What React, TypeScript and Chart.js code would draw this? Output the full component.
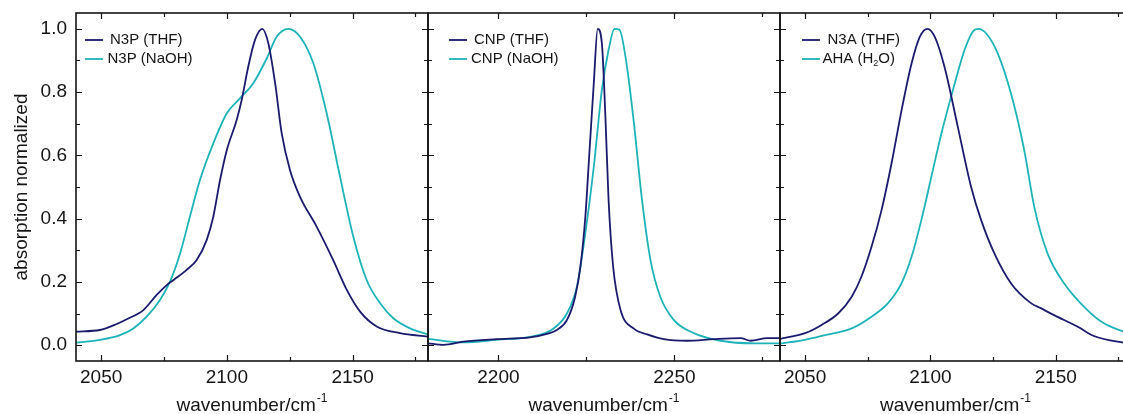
import React, { useEffect, useRef } from "react";
import { Chart, registerables } from "chart.js";

Chart.register(...registerables);

// ---------- data ----------
// Panel 1: N3P
const n3pThfX = [2040, 2049.5, 2056.2, 2060.2, 2066.8, 2072.1, 2076.1, 2078.8, 2084.0, 2088.0, 2092.0, 2094.6, 2097.3, 2100.0, 2103.9, 2105.9, 2108.5, 2111.2, 2114.1, 2116.5, 2119.2, 2121.8, 2125.1, 2129.1, 2135.7, 2142.3, 2147.7, 2153.0, 2159.6, 2168.9, 2180];
const n3pThfY = [0.043, 0.048, 0.067, 0.082, 0.111, 0.159, 0.190, 0.206, 0.238, 0.269, 0.333, 0.406, 0.522, 0.617, 0.712, 0.775, 0.880, 0.965, 1.0, 0.954, 0.828, 0.670, 0.554, 0.469, 0.375, 0.269, 0.175, 0.106, 0.059, 0.038, 0.027];
const n3pNaohX = [2040, 2049.5, 2057.5, 2062.8, 2068.1, 2073.4, 2077.4, 2081.4, 2085.3, 2089.3, 2094.6, 2100.0, 2105.2, 2110.5, 2115.9, 2119.8, 2124.5, 2129.1, 2134.4, 2139.7, 2145.0, 2150.3, 2155.6, 2160.9, 2166.2, 2172.9, 2180];
const n3pNaohY = [0.008, 0.017, 0.032, 0.053, 0.090, 0.143, 0.201, 0.290, 0.406, 0.522, 0.638, 0.733, 0.780, 0.828, 0.907, 0.975, 1.0, 0.975, 0.891, 0.733, 0.533, 0.343, 0.206, 0.133, 0.085, 0.053, 0.034];

// Panel 2: CNP
const cnpThfX = [2180, 2184.4, 2190.1, 2199.5, 2209.0, 2213.8, 2216.6, 2219.5, 2221.8, 2223.3, 2224.7, 2225.9, 2227.1, 2228.2, 2229.4, 2230.4, 2231.3, 2232.6, 2234.7, 2238.4, 2242.3, 2247.0, 2253.6, 2261.2, 2268.8, 2271.7, 2276.4, 2280];
const cnpThfY = [0.006, 0.001, 0.011, 0.019, 0.025, 0.036, 0.048, 0.080, 0.153, 0.248, 0.406, 0.617, 0.828, 1.0, 0.954, 0.722, 0.459, 0.248, 0.111, 0.053, 0.034, 0.019, 0.014, 0.019, 0.022, 0.014, 0.022, 0.022];
const cnpNaohX = [2180, 2190.1, 2199.5, 2209.4, 2215.7, 2219.5, 2222.3, 2224.7, 2227.1, 2229.4, 2231.3, 2233.0, 2234.4, 2236.1, 2238.4, 2240.8, 2243.2, 2246.0, 2249.8, 2255.5, 2263.1, 2272.6, 2280];
const cnpNaohY = [0.020, 0.009, 0.017, 0.027, 0.053, 0.101, 0.185, 0.354, 0.564, 0.807, 0.933, 1.0, 0.997, 0.912, 0.712, 0.459, 0.269, 0.153, 0.080, 0.038, 0.014, 0.006, 0.006];

// Panel 3: N3A / AHA
const n3aThfX = [2040, 2050, 2056.6, 2063.3, 2068.6, 2072.5, 2076.5, 2080.5, 2084.5, 2088.5, 2092.5, 2095.8, 2098.8, 2101.7, 2105.6, 2110.9, 2116.2, 2120.2, 2125.5, 2132.1, 2140.1, 2144.0, 2149.3, 2158.6, 2165.2, 2177, 2180];
const n3aThfY = [0.020, 0.038, 0.064, 0.101, 0.153, 0.217, 0.311, 0.427, 0.575, 0.743, 0.891, 0.975, 1.0, 0.975, 0.880, 0.691, 0.501, 0.396, 0.290, 0.196, 0.133, 0.117, 0.095, 0.059, 0.029, 0.008, 0.005];
const ahaH2oX = [2040, 2050, 2058, 2068.6, 2076.5, 2083.1, 2088.5, 2092.5, 2096.4, 2100.4, 2104.4, 2109.0, 2113.6, 2116.9, 2119.1, 2122.2, 2126.8, 2132.1, 2137.4, 2141.4, 2146.7, 2153.3, 2162.6, 2169.2, 2177, 2180];
const ahaH2oY = [0.005, 0.017, 0.032, 0.053, 0.090, 0.133, 0.196, 0.280, 0.396, 0.533, 0.670, 0.807, 0.933, 0.991, 1.0, 0.986, 0.923, 0.796, 0.617, 0.438, 0.290, 0.196, 0.111, 0.069, 0.043, 0.035];

// legend labels ("_2" marks a subscript digit)
const labelsPanel1 = ["N3P (THF)", "N3P (NaOH)"];
const labelsPanel2 = ["CNP (THF)", "CNP (NaOH)"];
const labelsPanel3 = ["N3A (THF)", "AHA (H_2O)"];

// tick values
const xTicksA = [2050, 2075, 2100, 2125, 2150, 2175];
const xTicksB = [2200, 2225, 2250, 2275];
const yTicks = [0, 0.1, 0.2, 0.3, 0.4, 0.5, 0.6, 0.7, 0.8, 0.9, 1.0];

const xTitle = "wavenumber/cm";
const xTitleSup = "-1";
const yTitle = "absorption normalized";

// ---------- styling ----------
const NAVY = "#1b1a6f";
const TEAL = "#1db3b8";
const INK = "#151515";
const FONT = '"Liberation Sans", Arial, Helvetica, sans-serif';

type Series = { xs: number[]; ys: number[]; color: string };
type Panel = {
  left: number; width: number; padLeft: number; padRight: number; yWidth: number;
  xmin: number; xmax: number; xTicks: number[]; showY: boolean;
  series: Series[]; labels: string[];
  legendLine: [number, number]; legendText: number[];
};

const panels: Panel[] = [
  {
    left: 0, width: 431, padLeft: 0, padRight: 3, yWidth: 76,
    xmin: 2040, xmax: 2180, xTicks: xTicksA, showY: true,
    series: [{ xs: n3pThfX, ys: n3pThfY, color: NAVY }, { xs: n3pNaohX, ys: n3pNaohY, color: TEAL }],
    labels: labelsPanel1, legendLine: [9, 27], legendText: [34, 31.5],
  },
  {
    left: 426, width: 356, padLeft: 2, padRight: 2, yWidth: 0,
    xmin: 2180, xmax: 2280, xTicks: xTicksB, showY: false,
    series: [{ xs: cnpThfX, ys: cnpThfY, color: NAVY }, { xs: cnpNaohX, ys: cnpNaohY, color: TEAL }],
    labels: labelsPanel2, legendLine: [21, 39], legendText: [46, 43],
  },
  {
    left: 778, width: 356, padLeft: 2, padRight: 3, yWidth: 0,
    xmin: 2040, xmax: 2180, xTicks: xTicksA, showY: false,
    series: [{ xs: n3aThfX, ys: n3aThfY, color: NAVY }, { xs: ahaH2oX, ys: ahaH2oY, color: TEAL }],
    labels: labelsPanel3, legendLine: [22, 40], legendText: [47.5, 42.5],
  },
];

const isMajorX = (v: number) => Math.round(v) % 50 === 0;
const isMajorY = (v: number) => Math.round(v * 10) % 2 === 0;

function drawRichText(ctx: CanvasRenderingContext2D, text: string, x: number, y: number, size: number) {
  const parts = text.split(/_(\d)/);
  let cx = x;
  parts.forEach((p, i) => {
    if (!p) return;
    if (i % 2 === 1) {
      ctx.font = `${Math.round(size * 0.62)}px ${FONT}`;
      ctx.fillText(p, cx, y + size * 0.33);
      cx += ctx.measureText(p).width;
    } else {
      ctx.font = `${size}px ${FONT}`;
      ctx.fillText(p, cx, y);
      cx += ctx.measureText(p).width;
    }
  });
}

function makeDecor(p: Panel) {
  return {
    id: "decor",
    afterDraw(chart: any) {
      const { ctx, chartArea: a } = chart;
      const x = chart.scales.x;
      const y = chart.scales.y;
      ctx.save();
      // ticks (inward, all four sides)
      ctx.strokeStyle = INK;
      ctx.lineWidth = 1.2;
      ctx.beginPath();
      x.ticks.forEach((t: any) => {
        const px = Math.round(x.getPixelForValue(t.value)) + 0.5;
        const len = isMajorX(t.value) ? 6 : 4;
        ctx.moveTo(px, a.bottom); ctx.lineTo(px, a.bottom - len);
        ctx.moveTo(px, a.top); ctx.lineTo(px, a.top + len);
      });
      y.ticks.forEach((t: any) => {
        const py = Math.round(y.getPixelForValue(t.value)) + 0.5;
        const len = isMajorY(t.value) ? 6 : 4;
        ctx.moveTo(a.left, py); ctx.lineTo(a.left + len, py);
        ctx.moveTo(a.right, py); ctx.lineTo(a.right - len, py);
      });
      ctx.stroke();
      // frame
      ctx.lineWidth = 1.6;
      ctx.strokeRect(a.left, a.top, a.right - a.left, a.bottom - a.top);

      // legend
      const rows = [40, 59];
      p.labels.forEach((lab, i) => {
        const ry = rows[i];
        ctx.strokeStyle = p.series[i].color;
        ctx.lineWidth = 1.8;
        ctx.beginPath();
        ctx.moveTo(a.left + p.legendLine[0], ry);
        ctx.lineTo(a.left + p.legendLine[1], ry);
        ctx.stroke();
        ctx.fillStyle = INK;
        ctx.textAlign = "left";
        ctx.textBaseline = "middle";
        drawRichText(ctx, lab, a.left + p.legendText[i], ry, 15);
      });

      // x-axis title with superscript
      ctx.fillStyle = INK;
      ctx.textBaseline = "alphabetic";
      ctx.textAlign = "left";
      ctx.font = `19px ${FONT}`;
      const w1 = ctx.measureText(xTitle).width;
      ctx.font = `12px ${FONT}`;
      const w2 = ctx.measureText(xTitleSup).width;
      const cx = (a.left + a.right) / 2;
      const sx = cx - (w1 + w2 + 1) / 2;
      ctx.font = `19px ${FONT}`;
      ctx.fillText(xTitle, sx, 410.5);
      ctx.font = `12px ${FONT}`;
      ctx.fillText(xTitleSup, sx + w1 + 1, 401.5);
      ctx.restore();
    },
  };
}

function PanelChart({ p }: { p: Panel }) {
  const ref = useRef<HTMLCanvasElement | null>(null);
  useEffect(() => {
    if (!ref.current) return;
    const chart = new Chart(ref.current, {
      type: "line",
      data: {
        datasets: p.series.map((s, i) => ({
          label: p.labels[i],
          data: s.xs.map((xv, k) => ({ x: xv, y: s.ys[k] })),
          borderColor: s.color,
          backgroundColor: s.color,
          borderWidth: 1.8,
          pointRadius: 0,
          fill: false,
          cubicInterpolationMode: "monotone" as const,
        })),
      },
      options: {
        responsive: false,
        animation: false,
        events: [],
        layout: { padding: { left: p.padLeft, right: p.padRight, top: 13, bottom: 0 } },
        plugins: { legend: { display: false }, tooltip: { enabled: false }, title: { display: false } },
        scales: {
          x: {
            type: "linear",
            min: p.xmin,
            max: p.xmax,
            bounds: "data",
            afterBuildTicks: (s: any) => { s.ticks = p.xTicks.map((v) => ({ value: v })); },
            afterFit: (s: any) => {
              s.height = 53;
              s.paddingLeft = 0; s.paddingRight = 0; s.paddingTop = 0; s.paddingBottom = 0;
            },
            grid: { display: false, drawTicks: false },
            border: { display: false },
            ticks: {
              autoSkip: false, maxRotation: 0, minRotation: 0, padding: 5,
              color: INK, font: { family: FONT, size: 19 },
              callback: (v: any) => (isMajorX(Number(v)) ? String(v) : ""),
            },
          },
          y: {
            type: "linear",
            min: -0.05,
            max: 1.05,
            bounds: "data",
            afterBuildTicks: (s: any) => { s.ticks = yTicks.map((v) => ({ value: v })); },
            afterFit: (s: any) => {
              s.width = p.yWidth;
              s.paddingLeft = 0; s.paddingRight = 0; s.paddingTop = 0; s.paddingBottom = 0;
            },
            grid: { display: false, drawTicks: false },
            border: { display: false },
            ticks: {
              display: p.showY, padding: 9, color: INK, font: { family: FONT, size: 19 },
              callback: (v: any) => (isMajorY(Number(v)) ? Number(v).toFixed(1) : ""),
            },
            title: {
              display: p.showY, text: yTitle, color: INK,
              font: { family: FONT, size: 19 }, padding: { top: 10, bottom: 0 },
            },
          },
        },
      },
      plugins: [makeDecor(p)],
    } as any);
    return () => chart.destroy();
  }, [p]);
  return (
    <canvas
      ref={ref}
      width={p.width}
      height={414}
      style={{ position: "absolute", left: p.left, top: 0, width: p.width, height: 414, display: "block" }}
    />
  );
}

export default function App() {
  return (
    <div
      style={{
        position: "fixed", left: 0, top: 0, width: 1123, height: 414,
        overflow: "hidden", background: "#ffffff",
      }}
    >
      {panels.map((p, i) => (
        <PanelChart key={i} p={p} />
      ))}
    </div>
  );
}
